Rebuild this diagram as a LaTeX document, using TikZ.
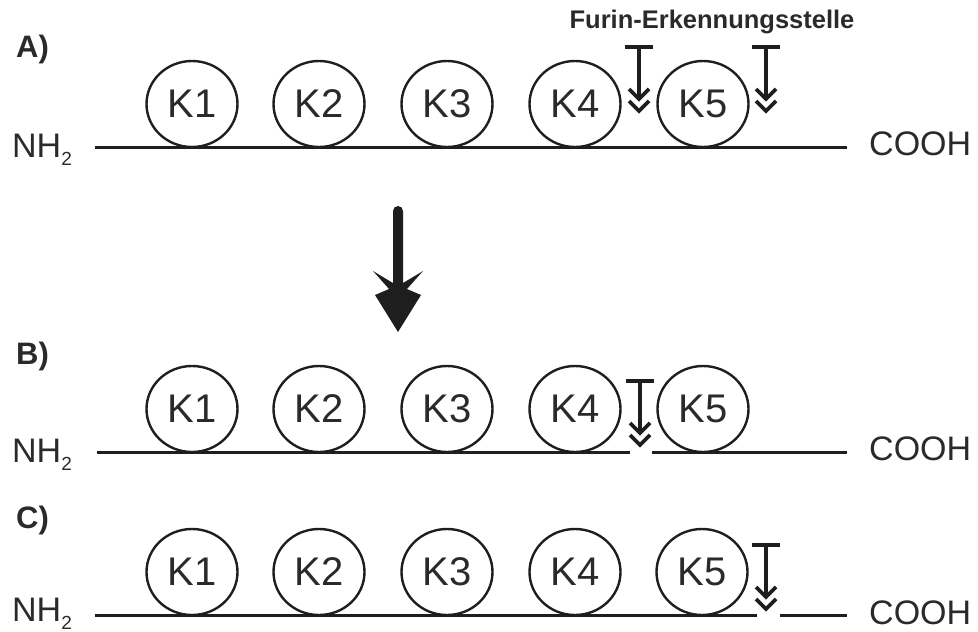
\documentclass[tikz,border=0pt]{standalone}
\usepackage{fontspec}
\setmainfont{Liberation Sans}
\usetikzlibrary{shapes.geometric}

\definecolor{ink}{HTML}{1E1E1E}
\definecolor{txt}{HTML}{2A2A2A}

\newcommand{\subtwo}{\raisebox{-8pt}{\fontsize{19}{20}\selectfont 2}}

\tikzset{
  kbox/.style={ellipse, draw=ink, line width=2.4pt, minimum width=91pt,
    minimum height=86pt, inner sep=0pt, text=txt,
    font=\fontsize{40}{44}\selectfont},
  chain/.style={draw=ink, line width=3pt},
  terminus/.style={text=txt, inner sep=0pt, font=\fontsize{34}{38}\selectfont},
  panel/.style={text=txt, inner sep=0pt, anchor=west, font=\bfseries\fontsize{31}{34}\selectfont},
  % furin cleavage site marker: T-bar, stem and double chevron
  cleave/.pic={
    \draw[ink, line width=3.6pt] (-14,0) -- (14,0);
    \draw[ink, line width=3.6pt] (0,0) -- (0,50);
    \draw[ink, line width=3.8pt, line join=miter] (-10,42) -- (0,52) -- (10,42);
    \draw[ink, line width=3.8pt, line join=miter] (-10,54) -- (0,64) -- (10,54);
  }
}

\begin{document}
\begin{tikzpicture}[x=1pt, y=-1pt]
\useasboundingbox (0,0) rectangle (978,632);

% ---------- A) full-length protein ----------
\node[panel] (labA) at (16,49) {A)};
\node[text=txt, inner sep=0pt, font=\bfseries\fontsize{25.5}{28}\selectfont] (furin) at (712,22) {Furin-Erkennungsstelle};
\node[terminus, anchor=base west] (nhA) at (12,157) {NH\subtwo};
\node[terminus, anchor=base west] (coA) at (869,155) {COOH};
\coordinate (aL) at (95,147);
\coordinate (aR) at (847,147);
\draw[chain] (aL) -- (aR);
\foreach \i/\x in {1/192,2/319,3/447,4/575,5/703}
  \node[kbox] (a\i) at (\x,104) {K\i};
\pic at (639,47) {cleave};
\pic at (766,47) {cleave};

% ---------- processing arrow ----------
\coordinate (procTop) at (398,211);
\fill[ink] (393,211) -- (403,211) -- (403,283) -- (423,271)
  -- (407,289) -- (421,295) -- (398,332) -- (375,295) -- (389,289)
  -- (373,271) -- (393,283) -- cycle;
\fill[ink] (procTop) circle (5pt);

% ---------- B) cleaved between K4 and K5 ----------
\node[panel] (labB) at (16,356) {B)};
\node[terminus, anchor=base west] (nhB) at (12,462) {NH\subtwo};
\node[terminus, anchor=base west] (coB) at (869,460) {COOH};
\coordinate (bL) at (97,452);
\coordinate (bC1) at (630,452);
\coordinate (bC2) at (652,452);
\coordinate (bR) at (847,452);
\draw[chain] (bL) -- (bC1);
\draw[chain] (bC2) -- (bR);
\foreach \i/\x in {1/192,2/319,3/447,4/575,5/703}
  \node[kbox] (b\i) at (\x,409) {K\i};
\pic at (640,381) {cleave};

% ---------- C) cleaved behind K5 ----------
\node[panel] (labC) at (16,520) {C)};
\node[terminus, anchor=base west] (nhC) at (12,621) {NH\subtwo};
\node[terminus, anchor=base west] (coC) at (869,624) {COOH};
\coordinate (cL) at (95,615);
\coordinate (cC1) at (757,615);
\coordinate (cC2) at (780,615);
\coordinate (cR) at (847,615);
\draw[chain] (cL) -- (cC1);
\draw[chain] (cC2) -- (cR);
\foreach \i/\x in {1/192,2/319,3/447,4/575,5/702}
  \node[kbox] (c\i) at (\x,572) {K\i};
\pic at (766,545) {cleave};
\end{tikzpicture}
\end{document}
